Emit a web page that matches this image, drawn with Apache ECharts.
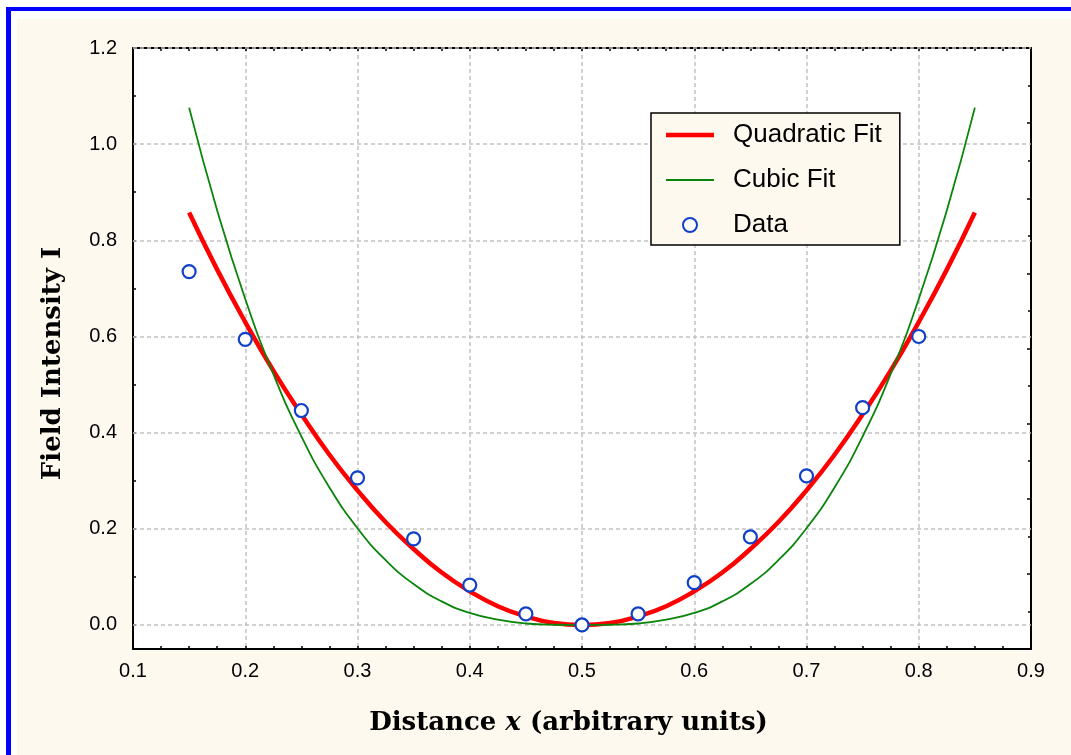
<!DOCTYPE html>
<html>
<head>
<meta charset="utf-8">
<script src="https://cdn.jsdelivr.net/npm/echarts@6/dist/echarts.min.js"></script>
<style>
  html, body { margin: 0; padding: 0; width: 1071px; height: 755px; overflow: hidden; background: #ffffff; }
  #frame { position: absolute; left: 6px; top: 7px; width: 1200px; height: 900px; border-left: 5px solid #0000ff; border-top: 4px solid #0000ff; }
  #cream { position: absolute; left: 17px; top: 19px; width: 1200px; height: 900px; background: #fdf9ef; }
  #chart { position: absolute; left: 0; top: 0; width: 1071px; height: 755px; }
</style>
</head>
<body>
<div id="frame"></div>
<div id="cream"></div>
<div id="chart"></div>
<script>
// ---- data ----
const xTickLabels = [0.1, 0.2, 0.3, 0.4, 0.5, 0.6, 0.7, 0.8, 0.9];
const yTickLabels = [0.0, 0.2, 0.4, 0.6, 0.8, 1.0, 1.2];
const yTicks = [0.0, 0.1, 0.2, 0.3, 0.4, 0.5, 0.6, 0.7, 0.8, 0.9, 1.0, 1.1, 1.2];

const dataX = [0.15, 0.20, 0.25, 0.30, 0.35, 0.40, 0.45, 0.50, 0.55, 0.60, 0.65, 0.70, 0.75, 0.80];
const dataY = [0.735, 0.594, 0.446, 0.306, 0.179, 0.083, 0.023, 0.000, 0.023, 0.088, 0.183, 0.310, 0.452, 0.600];

const fitX = [0.150, 0.175, 0.200, 0.225, 0.250, 0.275, 0.300, 0.325, 0.350, 0.375, 0.400, 0.425, 0.450, 0.475, 0.500,
              0.525, 0.550, 0.575, 0.600, 0.625, 0.650, 0.675, 0.700, 0.725, 0.750, 0.775, 0.800, 0.825, 0.850];
const quadFit = [0.858, 0.739, 0.630, 0.529, 0.438, 0.354, 0.280, 0.214, 0.158, 0.109, 0.070, 0.039, 0.018, 0.004, 0.000,
                 0.004, 0.018, 0.039, 0.070, 0.109, 0.158, 0.214, 0.280, 0.354, 0.438, 0.529, 0.630, 0.739, 0.858];
const cubicFit = [1.076, 0.862, 0.678, 0.522, 0.392, 0.286, 0.201, 0.135, 0.085, 0.049, 0.025, 0.011, 0.003, 0.0004, 0.000,
                  0.0004, 0.003, 0.011, 0.025, 0.049, 0.085, 0.135, 0.201, 0.286, 0.392, 0.522, 0.678, 0.862, 1.076];

const seriesNames = ['Quadratic Fit', 'Cubic Fit', 'Data'];
const xTitle = ['Distance ', 'x', ' (arbitrary units)'];
const yTitle = 'Field Intensity I';

// ---- build chart ----
const zip = (xs, ys) => xs.map((x, i) => [x, ys[i]]);
const cream = '#fdf9ef';
const gridStyle = { color: '#c2c2c2', width: 1.5, type: [4, 3] };
const sans = 'Liberation Sans, Arial, sans-serif';
const serif = 'DejaVu Serif, serif';

const chart = echarts.init(document.getElementById('chart'), null, { renderer: 'canvas' });
chart.setOption({
  animation: false,
  backgroundColor: 'transparent',
  textStyle: { fontFamily: sans },
  grid: { left: 133, right: 40, top: 48, bottom: 106, show: true, backgroundColor: '#ffffff', borderWidth: 0 },
  legend: {
    orient: 'vertical', left: 651, top: 113,
    padding: [9, 18, 7, 15], itemGap: 19, itemWidth: 48, itemHeight: 14,
    backgroundColor: cream, borderColor: '#000', borderWidth: 1.5,
    data: [
      { name: seriesNames[0], icon: 'path://M0,0 L48,0 L48,4.5 L0,4.5 Z' },
      { name: seriesNames[1], icon: 'path://M0,0 L48,0 L48,1.8 L0,1.8 Z' },
      { name: seriesNames[2] }
    ],
    formatter: n => '{t|' + n + '}',
    textStyle: { rich: { t: { fontFamily: sans, fontSize: 26, color: '#000', lineHeight: 26, padding: [0, 0, 0, 14] } } }
  },
  xAxis: [{
    type: 'value', min: xTickLabels[0], max: xTickLabels[xTickLabels.length - 1], interval: 0.1,
    position: 'bottom',
    axisLine: { show: true, onZero: false, lineStyle: { color: '#000', width: 2 } },
    axisTick: { show: true, inside: true, length: 3, lineStyle: { color: '#000', width: 1.5 } },
    minorTick: { show: true, splitNumber: 4, length: 3, lineStyle: { color: '#000', width: 1.5 } },
    axisLabel: { color: '#000', fontSize: 20, fontFamily: sans, margin: 12, formatter: v => v.toFixed(1) },
    splitLine: { show: true, lineStyle: gridStyle },
    name: '{b|' + xTitle[0] + '}{i|' + xTitle[1] + '}{b|' + xTitle[2] + '}',
    nameLocation: 'middle', nameGap: 61,
    nameTextStyle: {
      rich: {
        b: { fontFamily: serif, fontWeight: 'bold', fontSize: 26, color: '#000' },
        i: { fontFamily: serif, fontWeight: 'bold', fontStyle: 'italic', fontSize: 26, color: '#000' }
      },
      padding: [0, 27, 0, 0]
    }
  }, {
    type: 'value', min: xTickLabels[0], max: xTickLabels[xTickLabels.length - 1], interval: 0.1,
    position: 'top',
    axisLine: { show: true, onZero: false, lineStyle: { color: '#000', width: 2 } },
    axisTick: { show: true, inside: true, length: 3, lineStyle: { color: '#000', width: 1.5 } },
    minorTick: { show: true, splitNumber: 4, length: 3, lineStyle: { color: '#000', width: 1.5 } },
    axisLabel: { show: false },
    splitLine: { show: false }
  }],
  yAxis: [{
    type: 'value', min: -0.05, max: 1.2,
    position: 'left',
    axisLine: { show: true, onZero: false, lineStyle: { color: '#000', width: 2 } },
    axisTick: { show: true, inside: true, length: 3, customValues: yTicks, lineStyle: { color: '#000', width: 1.5 } },
    axisLabel: { color: '#000', fontSize: 20, fontFamily: sans, margin: 16, customValues: yTickLabels, formatter: v => v.toFixed(1) },
    splitLine: { show: false },
    name: yTitle, nameLocation: 'middle', nameGap: 67,
    nameTextStyle: { fontFamily: serif, fontWeight: 'bold', fontSize: 26, color: '#000', padding: [0, 30, 0, 0] }
  }, {
    type: 'value', min: 0, max: 16, interval: 2,
    position: 'right',
    axisLine: { show: true, onZero: false, lineStyle: { color: '#000', width: 2 } },
    axisTick: { show: true, inside: true, length: 4, lineStyle: { color: '#000', width: 1.5 } },
    minorTick: { show: true, splitNumber: 2, length: 3, lineStyle: { color: '#000', width: 1.5 } },
    axisLabel: { show: false },
    splitLine: { show: false }
  }],
  series: [{
    name: seriesNames[0], type: 'line', data: zip(fitX, quadFit), smooth: true,
    symbol: 'none', lineStyle: { color: '#ff0000', width: 4.5 }, itemStyle: { color: '#ff0000' }, z: 3
  }, {
    name: seriesNames[1], type: 'line', data: zip(fitX, cubicFit), smooth: true,
    symbol: 'none', lineStyle: { color: '#0a840a', width: 1.8 }, itemStyle: { color: '#0a840a' }, z: 4
  }, {
    name: seriesNames[2], type: 'scatter', data: zip(dataX, dataY),
    symbol: 'circle', symbolSize: 13,
    itemStyle: { color: '#ffffff', borderColor: '#1040c8', borderWidth: 2.2, opacity: 1 }, z: 5,
    markLine: {
      silent: true, symbol: 'none', z: 1, animation: false,
      label: { show: false }, lineStyle: gridStyle,
      emphasis: { disabled: true },
      data: yTickLabels.map(v => ({ yAxis: v }))
    }
  }]
});
</script>
</body>
</html>
